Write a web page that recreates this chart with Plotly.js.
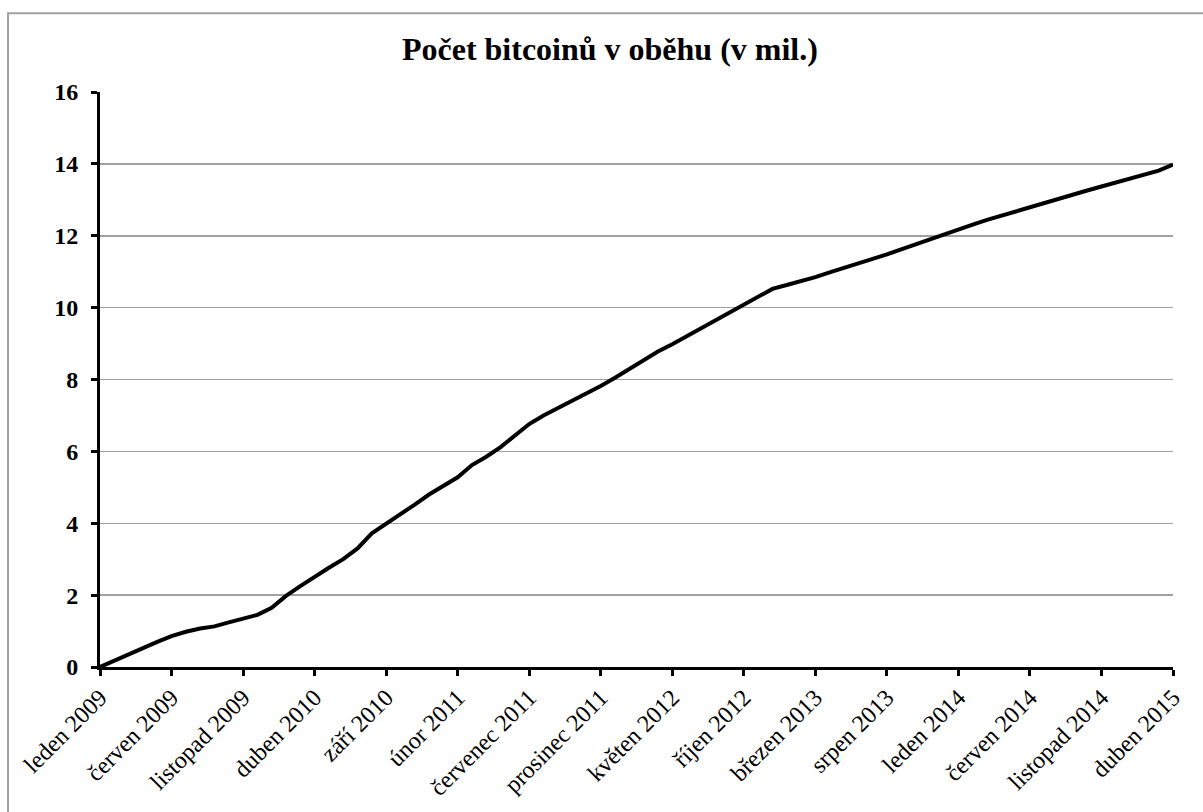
<!DOCTYPE html>
<html>
<head>
<meta charset="utf-8">
<script src="https://cdn.plot.ly/plotly-3.0.1.min.js"></script>
<style>
  html, body { margin: 0; padding: 0; background: #fff; overflow: hidden; }
  #chart { width: 1203px; height: 812px; }
</style>
</head>
<body>
<div id="chart"></div>
<script>
// Czech month names and the covered years
const monthNames = ['leden', 'únor', 'březen', 'duben', 'květen', 'červen',
  'červenec', 'srpen', 'září', 'říjen', 'listopad', 'prosinec'];
const startYear = 2009;

// Bitcoins in circulation (millions), one value per month from leden 2009 to duben 2015
const coinsMillions = [
  0.00, 0.18, 0.36, 0.52, 0.70, 0.86, 0.98, 1.07, 1.13, 1.24,
  1.34, 1.45, 1.65, 1.98, 2.25, 2.52, 2.76, 3.00, 3.30, 3.72,
  3.98, 4.25, 4.52, 4.80, 5.03, 5.28, 5.62, 5.85, 6.12, 6.45,
  6.76, 7.00, 7.20, 7.40, 7.60, 7.82, 8.05, 8.30, 8.55, 8.78,
  8.98, 9.20, 9.42, 9.65, 9.88, 10.10, 10.32, 10.52, 10.63, 10.73,
  10.85, 10.98, 11.10, 11.23, 11.35, 11.48, 11.62, 11.76, 11.91, 12.05,
  12.18, 12.31, 12.44, 12.56, 12.68, 12.80, 12.92, 13.03, 13.14, 13.26,
  13.37, 13.48, 13.59, 13.70, 13.81, 13.98
];

// Month labels for every data point
const months = coinsMillions.map((_, i) =>
  monthNames[i % 12] + ' ' + (startYear + Math.floor(i / 12)));

// Axis shows every fifth month
const labelStep = 5;
const tickMonths = months.filter((_, i) => i % labelStep === 0);

const yTicks = [0, 2, 4, 6, 8, 10, 12, 14, 16];

const serif = 'Liberation Serif, Times New Roman, serif';

const trace = {
  x: months,
  y: coinsMillions,
  type: 'scatter',
  mode: 'lines',
  line: { color: '#000000', width: 4 },
  hoverinfo: 'x+y'
};

const layout = {
  width: 1203,
  height: 812,
  margin: { l: 100, r: 30, t: 92, b: 145 },
  paper_bgcolor: '#ffffff',
  plot_bgcolor: '#ffffff',
  showlegend: false,
  title: {
    text: 'Počet bitcoinů v oběhu (v mil.)',
    font: { family: serif, size: 32, color: '#000000', weight: 700 },
    xref: 'container', x: 0.507, xanchor: 'center',
    yref: 'container', y: 0.94, yanchor: 'middle'
  },
  xaxis: {
    type: 'category',
    range: [0, months.length - 1],
    tickmode: 'array',
    tickvals: tickMonths,
    ticktext: tickMonths,
    tickangle: -45,
    tickfont: { family: serif, size: 24, color: '#000000' },
    ticks: 'outside',
    ticklen: 6,
    tickwidth: 3,
    tickcolor: '#000000',
    ticklabelstandoff: -2,
    showline: true,
    linecolor: '#000000',
    linewidth: 3,
    showgrid: false,
    zeroline: false,
    fixedrange: true
  },
  yaxis: {
    range: [0, 16],
    tickmode: 'array',
    tickvals: yTicks,
    ticktext: yTicks.map(String),
    tickfont: { family: serif, size: 24, color: '#000000', weight: 700 },
    ticks: 'outside',
    ticklen: 6,
    tickwidth: 3,
    tickcolor: '#000000',
    ticklabelstandoff: 8,
    showline: true,
    linecolor: '#000000',
    linewidth: 3,
    showgrid: true,
    gridcolor: '#a0a0a0',
    gridwidth: 1.5,
    zeroline: false,
    fixedrange: true
  },
  shapes: [{
    // outer chart frame
    type: 'rect',
    xref: 'paper', yref: 'paper',
    x0: -0.0857, x1: 1.05,
    y0: -0.30, y1: 1.137,
    line: { color: '#a0a0a0', width: 2 },
    fillcolor: 'rgba(0,0,0,0)',
    layer: 'below'
  }]
};

Plotly.newPlot('chart', [trace], layout, { displayModeBar: false, staticPlot: true });
</script>
</body>
</html>
